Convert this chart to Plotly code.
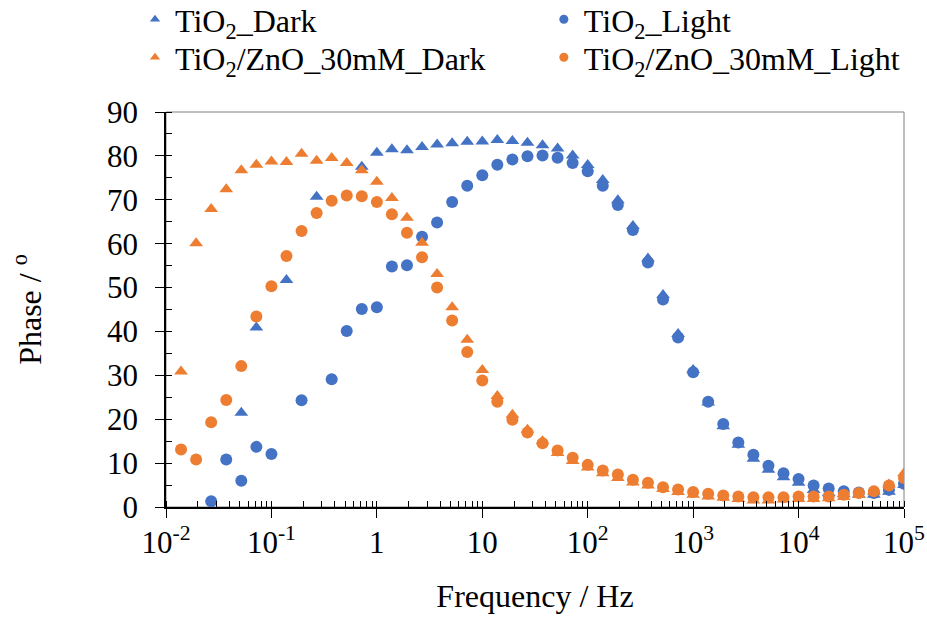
import plotly.graph_objects as go

freq = [0.01389, 0.01931, 0.02683, 0.03728, 0.05179, 0.07197, 0.1, 0.1389, 0.1931, 0.2683,
        0.3728, 0.5179, 0.7197, 1.0, 1.389, 1.931, 2.683, 3.728, 5.179, 7.197,
        10.0, 13.89, 19.31, 26.83, 37.28, 51.79, 71.97, 100.0, 138.9, 193.1,
        268.3, 372.8, 517.9, 719.7, 1000.0, 1389.0, 1931.0, 2683.0, 3728.0, 5179.0,
        7197.0, 10000.0, 13895.0, 19307.0, 26827.0, 37276.0, 51795.0, 71969.0, 100000.0]

tio2_dark = [None, None, None, None, 21.5, 40.9, None, 51.7, None, 70.7,
             None, None, 77.5, 80.7, 81.5, 81.3, 82.0, 82.6, 82.9, 83.2,
             83.3, 83.6, 83.4, 83.0, 82.4, 81.7, 80.1, 77.9, 74.5, 69.9,
             64.0, 56.6, 48.3, 39.4, 31.2, 23.8, 18.4, 14.2, 11.0, 8.5,
             6.8, 5.5, 3.9, 3.2, 2.9, 2.8, 2.8, 3.5, 5.0]

tio2_light = [None, None, 1.3, 10.8, 6.0, 13.7, 12.1, None, 24.3, None,
              29.1, 40.1, 45.1, 45.5, 54.8, 55.1, 61.6, 64.8, 69.5, 73.2,
              75.6, 78.0, 79.2, 79.9, 80.1, 79.6, 78.4, 76.5, 73.2, 68.8,
              63.1, 55.7, 47.3, 38.6, 30.7, 24.0, 18.9, 14.7, 11.9, 9.4,
              7.7, 6.4, 4.9, 4.2, 3.6, 3.3, 3.2, 3.9, 5.3]

zno_dark = [30.9, 60.1, 67.9, 72.4, 76.7, 78.0, 78.7, 78.6, 80.5, 78.9,
            79.5, 78.4, 76.7, 74.1, 70.4, 65.9, 60.2, 53.1, 45.5, 38.1,
            31.2, 25.3, 21.0, 17.6, 15.0, 12.3, 10.5, 9.0, 7.7, 6.6,
            5.6, 4.9, 4.1, 3.4, 2.8, 2.4, 2.1, 1.8, 1.5, 1.5,
            1.7, 1.8, 1.8, 2.0, 2.3, 2.8, 3.5, 5.1, 7.7]

zno_light = [13.1, 10.8, 19.3, 24.4, 32.1, 43.4, 50.3, 57.2, 62.9, 67.0,
             69.8, 71.0, 70.8, 69.5, 66.7, 62.5, 56.9, 50.0, 42.5, 35.3,
             28.8, 24.0, 19.9, 17.0, 14.5, 12.9, 11.2, 9.6, 8.3, 7.4,
             6.2, 5.5, 4.5, 4.0, 3.4, 3.0, 2.6, 2.4, 2.2, 2.2,
             2.2, 2.4, 2.4, 2.4, 2.8, 3.2, 3.6, 4.9, 6.6]

names = ["TiO<sub>2</sub>_Dark", "TiO<sub>2</sub>_Light",
         "TiO<sub>2</sub>/ZnO_30mM_Dark", "TiO<sub>2</sub>/ZnO_30mM_Light"]

x_tickvals = [0.01, 0.1, 1, 10, 100, 1000, 10000, 100000]
x_ticktext = ["10<sup>-2</sup>", "10<sup>-1</sup>", "1", "10", "10<sup>2</sup>",
              "10<sup>3</sup>", "10<sup>4</sup>", "10<sup>5</sup>"]
y_tickvals = [0, 10, 20, 30, 40, 50, 60, 70, 80, 90]

BLUE = "#4472C4"
ORANGE = "#ED7D31"
FONT = "Liberation Serif, Times New Roman, serif"
FS = 32
TFS = 31

series = [
    (tio2_dark, BLUE, "triangle-up"),
    (tio2_light, BLUE, "circle"),
    (zno_dark, ORANGE, "triangle-up"),
    (zno_light, ORANGE, "circle"),
]
legend_ids = ["legend", "legend2", "legend3", "legend4"]

fig = go.Figure()
for (vals, col, sym), nm in zip(series, names):
    fig.add_trace(go.Scatter(
        x=freq, y=vals, mode="markers", name=nm, showlegend=False,
        marker=dict(color=col, symbol=sym, size=12, line=dict(width=0)),
    ))
# legend entries (small symbols, as in the original)
for (vals, col, sym), nm, lg in zip(series, names, legend_ids):
    fig.add_trace(go.Scatter(
        x=[None], y=[None], mode="markers", name=nm, showlegend=True, legend=lg,
        marker=dict(color=col, symbol=sym, size=9, line=dict(width=0)),
    ))

fig.add_shape(type="rect", xref="paper", yref="paper", x0=0, x1=1, y0=0, y1=1,
              line=dict(color="#808080", width=1), layer="below")

leg_common = dict(
    orientation="h", xref="paper", yref="paper",
    yanchor="top", xanchor="left",
    font=dict(family=FONT, size=FS, color="black"),
    itemwidth=30, bgcolor="rgba(0,0,0,0)",
)
col1_x, col2_x = -0.042, 0.512
row1_y, row2_y = 1.3038, 1.2076

fig.update_layout(
    template="none",
    width=927, height=619,
    margin=dict(l=166, r=23, t=112, b=112, autoexpand=False),
    paper_bgcolor="white", plot_bgcolor="white",
    font=dict(family=FONT, size=FS, color="black"),
    legend=dict(x=col1_x, y=row1_y, **leg_common),
    legend2=dict(x=col2_x, y=row1_y, **leg_common),
    legend3=dict(x=col1_x, y=row2_y, **leg_common),
    legend4=dict(x=col2_x, y=row2_y, **leg_common),
)

fig.update_xaxes(
    type="log", range=[-2, 5], automargin=False,
    tickvals=x_tickvals, ticktext=x_ticktext,
    ticks="outside", ticklen=9, tickwidth=1.3, tickcolor="black",
    ticklabelstandoff=-2,
    showline=True, linecolor="black", linewidth=1.5,
    showgrid=False, zeroline=False,
    minor=dict(ticks="inside", ticklen=6, tickwidth=1, tickcolor="black",
               dtick="D1", showgrid=False),
    tickfont=dict(family=FONT, size=TFS, color="black"),
    title=dict(text="Frequency / Hz", font=dict(family=FONT, size=FS, color="black"), standoff=26),
)
fig.update_yaxes(
    range=[0, 90], tickvals=y_tickvals, automargin=False,
    ticks="outside", ticklen=9, tickwidth=1.3, tickcolor="black",
    ticklabelstandoff=11,
    showline=True, linecolor="black", linewidth=1.5,
    showgrid=False, zeroline=False,
    minor=dict(ticks="inside", ticklen=6, tickwidth=1, tickcolor="black",
               dtick=5, showgrid=False),
    tickfont=dict(family=FONT, size=TFS, color="black"),
    title=dict(text="Phase / <sup>o</sup>", font=dict(family=FONT, size=FS, color="black"), standoff=56),
)

fig.write_html("out.html")
